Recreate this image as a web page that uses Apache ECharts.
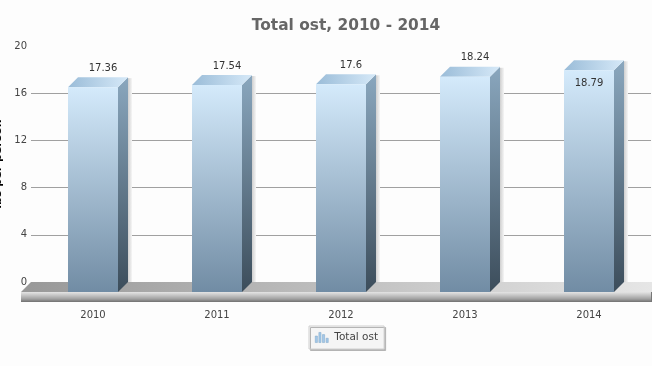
<!DOCTYPE html>
<html>
<head>
<meta charset="utf-8">
<script src="https://cdn.jsdelivr.net/npm/echarts@6/dist/echarts.min.js"></script>
<style>html,body{margin:0;padding:0;background:#fdfdfd}#c{width:652px;height:366px}</style>
</head>
<body>
<div id="c"></div>
<script>
var categories = ['2010', '2011', '2012', '2013', '2014'];
var totalOst = [17.36, 17.54, 17.6, 18.24, 18.79];
var yTicks = [0, 20, 4];
var seriesName = 'Total ost';
var titleText = 'Total ost, 2010 - 2014';
var yName = 'lbs per person';

var FONT = '"DejaVu Sans", Verdana, sans-serif';
var DEPTH = 10, BAR_W = 50, SLAB_H = 10, INSIDE_ABOVE = 18.5;

function lin(x0, y0, x1, y1, c0, c1) {
  return new echarts.graphic.LinearGradient(x0, y0, x1, y1, [{offset: 0, color: c0}, {offset: 1, color: c1}]);
}
function poly(points, fill, z) {
  return {type: 'polygon', shape: {points: points}, style: {fill: fill}, z2: z || 0};
}

function renderFloor(params) {
  var r = params.coordSys;
  var L = r.x, R = r.x + r.width + 1, B = r.y + r.height;
  return {type: 'group', silent: true, children: [
    poly([[L, B], [R, B], [R, B + DEPTH], [L - DEPTH, B + DEPTH]], lin(0, 0, 1, 0, '#989898', '#e6e6e6')),
    {type: 'rect', shape: {x: L - DEPTH, y: B + DEPTH, width: R - L + DEPTH, height: SLAB_H},
      style: {fill: new echarts.graphic.LinearGradient(0, 0, 0, 1, [
        {offset: 0, color: '#e4e4e4'}, {offset: 0.3, color: '#c8c8c8'}, {offset: 0.7, color: '#a0a0a0'}, {offset: 1, color: '#707070'}])}},
    {type: 'rect', shape: {x: R - 1, y: B + DEPTH, width: 1, height: SLAB_H}, style: {fill: '#777'}}
  ]};
}

function renderBar(params, api) {
  var i = api.value(0), v = api.value(1);
  var base = api.coord([i, 0]), top = api.coord([i, v]);
  var l = base[0] - BAR_W / 2, r = base[0] + BAR_W / 2;
  var b = base[1] + DEPTH, t = top[1] + DEPTH;
  var inside = v > INSIDE_ABOVE;
  var text = api.value(1) + '';
  return {type: 'group', children: [
    {type: 'rect', shape: {x: r + DEPTH, y: t - DEPTH + 1, width: 4, height: b - t - 1},
      style: {fill: lin(0, 0, 1, 0, '#cfcfcf', '#f6f6f6')}},
    poly([[r, b], [r + DEPTH, b - DEPTH], [r + DEPTH, t - DEPTH], [r, t]], lin(0, 0, 0, 1, '#8aa7be', '#3c4d5b')),
    poly([[l, t], [l + DEPTH, t - DEPTH], [r + DEPTH, t - DEPTH], [r, t]], lin(0, 0, 1, 0, '#9abcd8', '#d6e9f8')),
    {type: 'rect', shape: {x: l, y: t, width: BAR_W, height: b - t}, style: {fill: lin(0, 0, 0, 1, '#d4eafb', '#718ca4')}},
    {type: 'text', z2: 5, style: {
      text: text,
      x: inside ? base[0] : base[0] + DEPTH,
      y: inside ? t + 13 : t - DEPTH - 9,
      align: 'center', verticalAlign: 'middle',
      font: '10px ' + FONT, fill: '#333'}}
  ]};
}

var chart = echarts.init(document.getElementById('c'), null, {renderer: 'canvas'});
chart.setOption({
  animation: false,
  backgroundColor: '#fdfdfd',
  title: {text: titleText, left: 341, top: 13, textAlign: 'center',
    textStyle: {fontFamily: FONT, fontWeight: 'bold', fontSize: 15.4, color: '#666'}},
  legend: {
    left: 309, top: 326, padding: [6, 6, 6, 6], itemWidth: 13, itemHeight: 13, itemGap: 0,
    data: [{name: seriesName,
      icon: 'path://M0 5h3v9H0zM5 0h3v14H5zM10 3h3v11h-3zM15 8h3v6h-3z',
      itemStyle: {color: '#a3c8e8', borderColor: '#7ea6c9', borderWidth: 0.5}}],
    backgroundColor: '#f5f5f5', borderColor: '#cfcfcf', borderWidth: 1,
    shadowColor: '#b4b4b4', shadowBlur: 0, shadowOffsetX: 1.5, shadowOffsetY: 1.5,
    textStyle: {fontFamily: FONT, fontSize: 10.5, color: '#444', padding: [2, 0, 0, 1]}
  },
  grid: {left: 31, right: 1, top: 46, bottom: 84, containLabel: false, outerBoundsMode: 'none'},
  xAxis: {type: 'category', data: categories,
    axisLine: {show: false}, axisTick: {show: false},
    axisLabel: {margin: 28, fontFamily: FONT, fontSize: 10, color: '#444'}},
  yAxis: {type: 'value', min: yTicks[0], max: yTicks[1], interval: yTicks[2],
    name: yName, nameLocation: 'middle', nameGap: 27,
    nameTextStyle: {fontFamily: FONT, fontSize: 11, fontWeight: 'bold', color: '#000'},
    axisLine: {show: false}, axisTick: {show: false},
    axisLabel: {margin: 4, padding: [4, 0, 0, 0], fontFamily: FONT, fontSize: 10, color: '#444'},
    splitLine: {showMaxLine: false, lineStyle: {color: '#a0a0a0', width: 1}}},
  series: [
    {name: 'floor', type: 'custom', silent: true, clip: false, z: 1, renderItem: renderFloor, data: [[0, 0]], encode: {x: 0, y: 1}, legendHoverLink: false},
    {name: seriesName, type: 'custom', clip: false, z: 2, renderItem: renderBar,
      data: totalOst.map(function (v, i) { return [i, v]; }), encode: {x: 0, y: 1}}
  ]
});
</script>
</body>
</html>
